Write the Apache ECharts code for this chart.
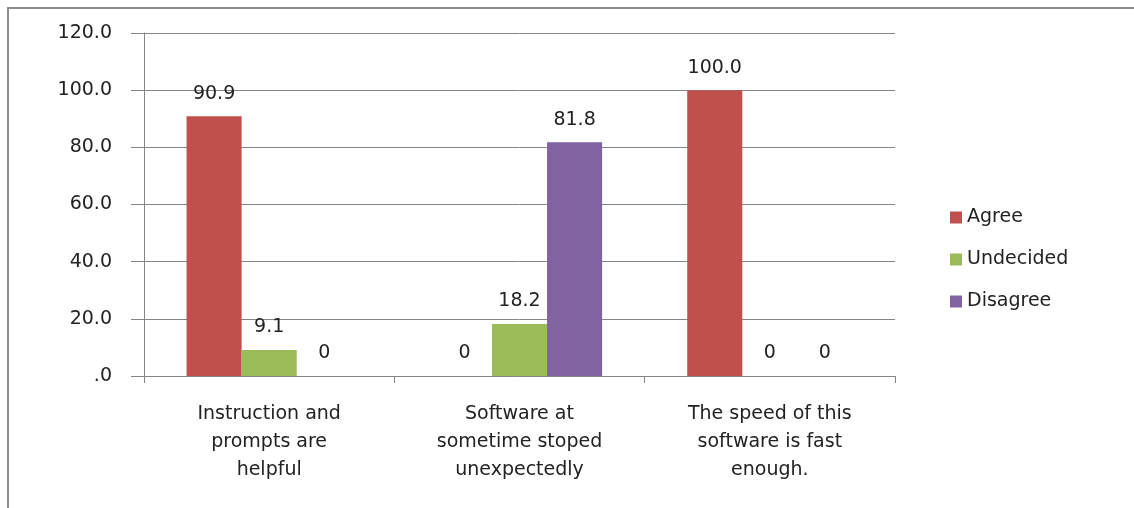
<!DOCTYPE html>
<html>
<head>
<meta charset="utf-8">
<script src="https://cdn.jsdelivr.net/npm/echarts@6/dist/echarts.min.js"></script>
<style>
  html, body { margin: 0; padding: 0; background: #fff; }
  #chart { width: 1134px; height: 508px; }
</style>
</head>
<body>
<div id="chart"></div>
<script>
// categories and series
const categories = [
    "Instruction and\nprompts are\nhelpful",
    "Software at\nsometime stoped\nunexpectedly",
    "The speed of this\nsoftware is fast\nenough."
];
const agree = [90.9, 0, 100.0];
const undecided = [9.1, 18.2, 0];
const disagree = [0, 81.8, 0];
const yTicks = [0, 20, 40, 60, 80, 100, 120];

const FONT = "DejaVu Sans";
const textColor = "#222";
const lineColor = "#868686";

const chart = echarts.init(document.getElementById("chart"));

// label on top of each bar: 0 stays "0", others one decimal
function barLabel() {
    return {
        show: true,
        position: "top",
        distance: 13,
        fontFamily: FONT,
        fontSize: 19,
        color: textColor,
        formatter: (p) => (p.value === 0 ? "0" : p.value.toFixed(1))
    };
}

function makeSeries(name, data, color) {
    return {
        name: name,
        type: "bar",
        data: data,
        barGap: "0%",
        barCategoryGap: "34%",
        itemStyle: { color: color },
        label: barLabel()
    };
}

const option = {
    animation: false,
    backgroundColor: "#fff",
    graphic: [
        {
            type: "rect",
            shape: { x: 8, y: 8, width: 1200, height: 600 },
            style: { fill: "none", stroke: "#8c8c8c", lineWidth: 2 },
            silent: true
        }
    ],
    grid: { left: 144, right: 239, top: 33, bottom: 132 },
    legend: {
        orient: "vertical",
        left: 945,
        top: 203,
        itemWidth: 12,
        itemHeight: 12,
        itemGap: 23,
        icon: "rect",
        textStyle: { fontFamily: FONT, fontSize: 19, color: textColor },
        data: ["Agree", "Undecided", "Disagree"]
    },
    xAxis: {
        type: "category",
        data: categories,
        axisLine: { show: true, lineStyle: { color: lineColor, width: 1 } },
        axisTick: { show: true, length: 7, lineStyle: { color: lineColor } },
        axisLabel: {
            margin: 24,
            fontFamily: FONT,
            fontSize: 19,
            lineHeight: 28,
            color: textColor,
            interval: 0
        }
    },
    yAxis: {
        type: "value",
        min: yTicks[0],
        max: yTicks[yTicks.length - 1],
        interval: 20,
        axisLine: { show: true, lineStyle: { color: lineColor, width: 1 } },
        axisTick: { show: true, inside: false, length: 13, lineStyle: { color: lineColor } },
        splitLine: { show: true, lineStyle: { color: lineColor, width: 1 } },
        axisLabel: {
            margin: 32,
            fontFamily: FONT,
            fontSize: 19,
            color: textColor,
            formatter: (v) => (v === 0 ? ".0" : v.toFixed(1))
        }
    },
    series: [
        makeSeries("Agree", agree, "#C0504D"),
        makeSeries("Undecided", undecided, "#9BBB59"),
        makeSeries("Disagree", disagree, "#8064A2")
    ]
};

chart.setOption(option);
</script>
</body>
</html>
